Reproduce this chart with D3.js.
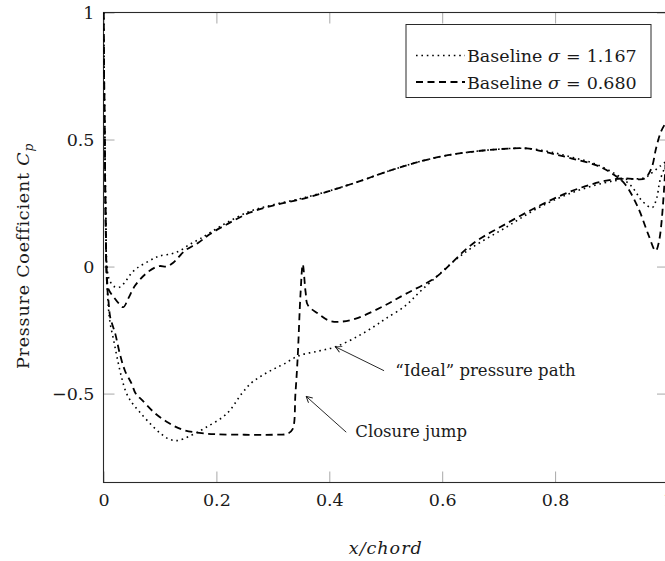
<!DOCTYPE html>
<html>
<head>
<meta charset="utf-8">
<script src="https://cdn.jsdelivr.net/npm/d3@7"></script>
<style>
  body { margin: 0; background: #fff; }
  svg, svg text { font-family: "DejaVu Serif", serif; }
  svg { display: block; }
</style>
</head>
<body>
<svg id="chart" width="665" height="561"></svg>
<script>
// tick values and labels
const X_TICKS = [0, 0.2, 0.4, 0.6, 0.8, 1];
const X_TICK_LABELS = ["0", "0.2", "0.4", "0.6", "0.8", "1"];
const Y_TICKS = [-0.5, 0, 0.5, 1];
const Y_TICK_LABELS = ["\u22120.5", "0", "0.5", "1"];

const SERIES_NAMES = ["Baseline", "Baseline"];
const SERIES_SIGMAS = ["1.167", "0.680"];

// sigma = 1.167, pressure side (upper Cp branch), [x/chord, Cp]
const sigma1167Pressure = [
  [0, 1], [0.002, 0.55], [0.004, 0.2], [0.007, -0.02], [0.012, -0.06], [0.02, -0.08],
  [0.03, -0.08], [0.04, -0.055], [0.05, -0.025], [0.06, -0.005], [0.075, 0.015],
  [0.09, 0.033], [0.1, 0.042], [0.12, 0.05], [0.135, 0.062], [0.153, 0.088],
  [0.17, 0.108], [0.19, 0.135], [0.22, 0.175], [0.26, 0.218], [0.3, 0.243],
  [0.35, 0.268], [0.4, 0.298], [0.45, 0.333], [0.5, 0.372], [0.55, 0.407],
  [0.6, 0.434], [0.65, 0.451], [0.7, 0.462], [0.75, 0.465], [0.79, 0.452],
  [0.83, 0.43], [0.87, 0.405], [0.91, 0.36], [0.935, 0.317], [0.955, 0.256],
  [0.972, 0.232], [0.98, 0.27], [0.986, 0.34], [1, 0.42]
];

// sigma = 1.167, suction side (lower Cp branch)
const sigma1167Suction = [
  [0, 1], [0.002, 0.6], [0.004, 0.2], [0.006, -0.05], [0.009, -0.17], [0.012, -0.226],
  [0.018, -0.29], [0.024, -0.357], [0.032, -0.436], [0.04, -0.495], [0.05, -0.535],
  [0.062, -0.567], [0.08, -0.612], [0.1, -0.655], [0.115, -0.678], [0.13, -0.685],
  [0.153, -0.667], [0.18, -0.635], [0.218, -0.58], [0.245, -0.5], [0.262, -0.458],
  [0.28, -0.43], [0.3, -0.405], [0.32, -0.383], [0.346, -0.351], [0.38, -0.333],
  [0.411, -0.316], [0.45, -0.275], [0.48, -0.235], [0.5, -0.205], [0.535, -0.154],
  [0.56, -0.1], [0.59, -0.04], [0.62, 0.02], [0.653, 0.075], [0.712, 0.153],
  [0.771, 0.232], [0.829, 0.29], [0.888, 0.33], [0.924, 0.343], [0.959, 0.35],
  [0.972, 0.37], [0.986, 0.395], [1, 0.42]
];

// sigma = 0.680, pressure side
const sigma0680Pressure = [
  [0, 1], [0.002, 0.55], [0.004, 0.15], [0.006, -0.04], [0.009, -0.09], [0.018, -0.12],
  [0.027, -0.145], [0.035, -0.16], [0.044, -0.125], [0.056, -0.075], [0.074, -0.03],
  [0.09, -0.005], [0.1, 0.002], [0.112, 0.0], [0.124, 0.016], [0.144, 0.062],
  [0.168, 0.094], [0.188, 0.127], [0.22, 0.168], [0.26, 0.213], [0.3, 0.24],
  [0.35, 0.265], [0.4, 0.297], [0.45, 0.333], [0.5, 0.372], [0.55, 0.407],
  [0.6, 0.434], [0.65, 0.451], [0.7, 0.462], [0.75, 0.465], [0.79, 0.447],
  [0.83, 0.425], [0.876, 0.396], [0.905, 0.36], [0.924, 0.324], [0.947, 0.232],
  [0.965, 0.127], [0.978, 0.062], [0.985, 0.11], [1, 0.58]
];

// sigma = 0.680, suction side (cavity then closure jump)
const sigma0680Suction = [
  [0, 1], [0.002, 0.55], [0.004, 0.15], [0.006, -0.06], [0.009, -0.14], [0.012, -0.2],
  [0.021, -0.266], [0.029, -0.344], [0.038, -0.41], [0.05, -0.462], [0.057, -0.5],
  [0.068, -0.525], [0.09, -0.575], [0.115, -0.615], [0.14, -0.642], [0.17, -0.655],
  [0.2, -0.66], [0.25, -0.662], [0.3, -0.662], [0.326, -0.658], [0.335, -0.64],
  [0.34, -0.5], [0.344, -0.357], [0.349, -0.108], [0.353, 0.009], [0.358, -0.1],
  [0.362, -0.152], [0.38, -0.185], [0.4, -0.213], [0.42, -0.217], [0.447, -0.205],
  [0.494, -0.158], [0.535, -0.108], [0.588, -0.043], [0.653, 0.088], [0.712, 0.167],
  [0.771, 0.238], [0.829, 0.297], [0.888, 0.337], [0.924, 0.347], [0.947, 0.343],
  [0.959, 0.347], [0.971, 0.389], [0.979, 0.467], [0.988, 0.533], [1, 0.58]
];

// annotations: text, text anchor point, arrow tail, arrow tip (data coords)
const ANNOTATION_TEXTS = ["\u201CIdeal\u201D pressure path", "Closure jump"];
const ANNOTATION_TEXT_AT = [[0.517, -0.429], [0.446, -0.672]];
const ANNOTATION_TAILS = [[0.497, -0.41], [0.430, -0.652]];
const ANNOTATION_TIPS = [[0.411, -0.316], [0.359, -0.511]];

const FONT = "'DejaVu Serif', serif";
const FONT_SIZE = 17.5;
const NOTE_FONT_SIZE = 16.5;
const TICK_LENGTH = 11;
const TICK_COLOR = "#a8a8a8";
const plot = { left: 103.5, right: 668, top: 12.5, bottom: 482.5 };

const svg = d3.select("#chart").attr("font-family", FONT);

const x = d3.scaleLinear().domain([0, 1]).range([plot.left, plot.right]);
const y = d3.scaleLinear().domain([-0.85, 1]).range([plot.bottom, plot.top]);

svg.append("defs")
  .append("clipPath")
  .attr("id", "plot-clip")
  .append("rect")
  .attr("x", plot.left)
  .attr("y", plot.top)
  .attr("width", plot.right - plot.left)
  .attr("height", plot.bottom - plot.top);

svg.select("defs")
  .append("marker")
  .attr("id", "arrow")
  .attr("viewBox", "-8 -5 10 10")
  .attr("refX", 0)
  .attr("refY", 0)
  .attr("markerWidth", 10)
  .attr("markerHeight", 10)
  .attr("markerUnits", "userSpaceOnUse")
  .attr("orient", "auto")
  .append("path")
  .attr("d", "M-6,-3.2 L0,0 L-6,3.2")
  .attr("fill", "none")
  .attr("stroke", "#111")
  .attr("stroke-width", 0.9);

function styleAxis(g) {
  g.attr("font-family", FONT).attr("font-size", FONT_SIZE);
  g.select(".domain").remove();
  g.selectAll(".tick line").attr("stroke", TICK_COLOR).attr("stroke-width", 1);
  g.selectAll(".tick text")
    .attr("font-family", FONT)
    .attr("font-size", FONT_SIZE)
    .attr("fill", "#1a1a1a");
}

// axes: ticks point inward on all four sides
svg.append("g")
  .attr("transform", `translate(0,${plot.bottom})`)
  .call(
    d3.axisBottom(x).tickValues(X_TICKS).tickSizeInner(-TICK_LENGTH).tickSizeOuter(0)
      .tickPadding(11).tickFormat((d, i) => X_TICK_LABELS[i])
  )
  .call(styleAxis);

svg.append("g")
  .attr("transform", `translate(0,${plot.top})`)
  .call(d3.axisTop(x).tickValues(X_TICKS).tickSizeInner(-TICK_LENGTH).tickSizeOuter(0).tickFormat(""))
  .call(styleAxis);

svg.append("g")
  .attr("transform", `translate(${plot.left},0)`)
  .call(
    d3.axisLeft(y).tickValues(Y_TICKS).tickSizeInner(-TICK_LENGTH).tickSizeOuter(0)
      .tickPadding(9).tickFormat((d, i) => Y_TICK_LABELS[i])
  )
  .call(styleAxis);

svg.append("g")
  .attr("transform", `translate(${plot.right},0)`)
  .call(d3.axisRight(y).tickValues(Y_TICKS).tickSizeInner(-TICK_LENGTH).tickSizeOuter(0).tickFormat(""))
  .call(styleAxis);

// frame
svg.append("rect")
  .attr("x", plot.left)
  .attr("y", plot.top)
  .attr("width", plot.right - plot.left)
  .attr("height", plot.bottom - plot.top)
  .attr("fill", "none")
  .attr("stroke", "#2a2a2a")
  .attr("stroke-width", 1.1);

// curves
const line = d3.line()
  .x((d) => x(d[0]))
  .y((d) => y(d[1]))
  .curve(d3.curveCatmullRom.alpha(0.5));

const DOTTED = { width: 1.6, dash: "1.6 3.8" };
const DASHED = { width: 1.8, dash: "7 4.5" };

const curves = svg.append("g").attr("clip-path", "url(#plot-clip)");
[
  [sigma1167Pressure, DOTTED],
  [sigma1167Suction, DOTTED],
  [sigma0680Pressure, DASHED],
  [sigma0680Suction, DASHED]
].forEach(([data, style]) => {
  curves.append("path")
    .datum(data)
    .attr("d", line)
    .attr("fill", "none")
    .attr("stroke", "#000")
    .attr("stroke-width", style.width)
    .attr("stroke-dasharray", style.dash)
    .attr("stroke-linecap", "butt");
});

// annotations
ANNOTATION_TEXTS.forEach((label, i) => {
  svg.append("line")
    .attr("x1", x(ANNOTATION_TAILS[i][0]))
    .attr("y1", y(ANNOTATION_TAILS[i][1]))
    .attr("x2", x(ANNOTATION_TIPS[i][0]))
    .attr("y2", y(ANNOTATION_TIPS[i][1]))
    .attr("stroke", "#111")
    .attr("stroke-width", 0.9)
    .attr("marker-end", "url(#arrow)");
  svg.append("text")
    .attr("x", x(ANNOTATION_TEXT_AT[i][0]))
    .attr("y", y(ANNOTATION_TEXT_AT[i][1]))
    .attr("font-size", NOTE_FONT_SIZE)
    .attr("fill", "#1a1a1a")
    .text(label);
});

// legend
const legend = svg.append("g").attr("transform", "translate(406,24.5)");
legend.append("rect")
  .attr("width", 245)
  .attr("height", 73)
  .attr("fill", "#fff")
  .attr("stroke", "#2a2a2a")
  .attr("stroke-width", 1);

[DOTTED, DASHED].forEach((style, i) => {
  const rowY = 31 + i * 26.5;
  legend.append("line")
    .attr("x1", 10)
    .attr("x2", 59)
    .attr("y1", rowY)
    .attr("y2", rowY)
    .attr("stroke", "#000")
    .attr("stroke-width", style.width)
    .attr("stroke-dasharray", style.dash);
  const t = legend.append("text")
    .attr("x", 61)
    .attr("y", rowY + 6.5)
    .attr("font-size", FONT_SIZE)
    .attr("fill", "#1a1a1a");
  t.append("tspan").text(SERIES_NAMES[i] + " ");
  t.append("tspan").attr("font-style", "italic").text("\u03C3");
  t.append("tspan").attr("dx", 6).text("=");
  t.append("tspan").attr("dx", 6).text(SERIES_SIGMAS[i]);
});

// axis titles
svg.append("text")
  .attr("x", (plot.left + plot.right) / 2)
  .attr("y", 554)
  .attr("text-anchor", "middle")
  .attr("font-size", FONT_SIZE)
  .attr("font-style", "italic")
  .attr("letter-spacing", 1)
  .attr("fill", "#1a1a1a")
  .text("x/chord");

const yTitle = svg.append("text")
  .attr("transform", "translate(29,256) rotate(-90)")
  .attr("text-anchor", "middle")
  .attr("font-size", FONT_SIZE)
  .attr("letter-spacing", 0.8)
  .attr("fill", "#1a1a1a");
yTitle.append("tspan").text("Pressure Coefficient ");
yTitle.append("tspan").attr("font-style", "italic").text("C");
yTitle.append("tspan")
  .attr("font-style", "italic")
  .attr("font-size", FONT_SIZE * 0.7)
  .attr("dy", 4)
  .text("p");
</script>
</body>
</html>
